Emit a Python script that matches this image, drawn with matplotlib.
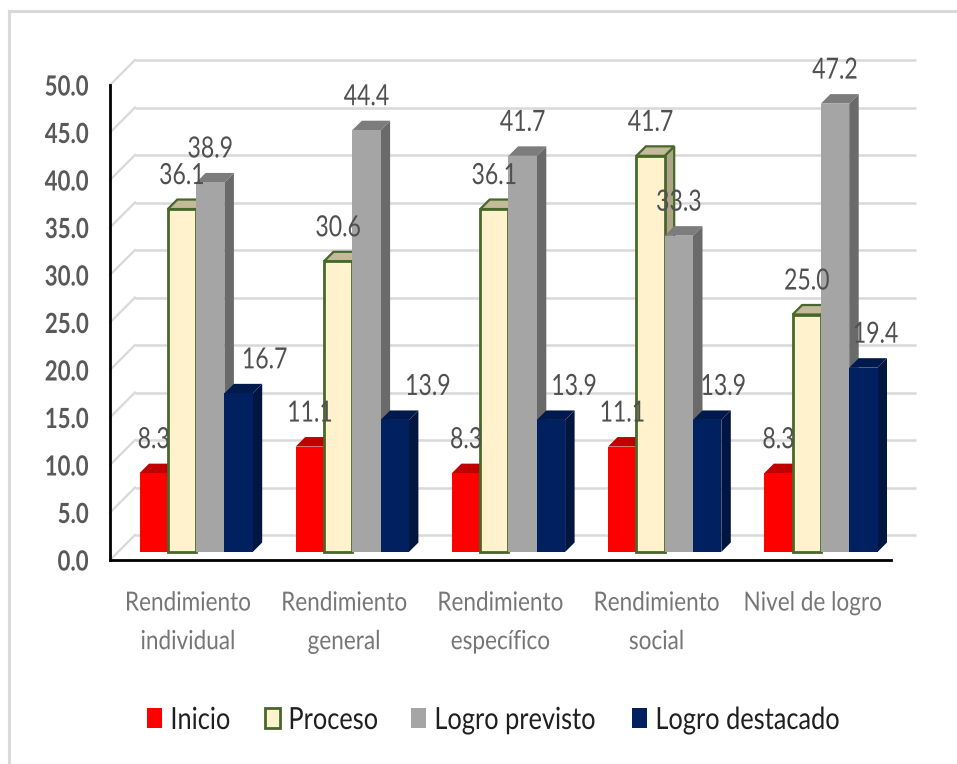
import matplotlib
matplotlib.use("Agg")
import matplotlib.pyplot as plt
from matplotlib.patches import Patch, Polygon
from matplotlib.lines import Line2D
from matplotlib.patheffects import AbstractPathEffect
from matplotlib.transforms import Affine2D

W, H = 957, 764
plt.rcParams["font.family"] = ["Lato", "DejaVu Sans"]

categories = ["Rendimiento\nindividual", "Rendimiento\ngeneral", "Rendimiento\nespecífico",
              "Rendimiento\nsocial", "Nivel de logro"]
inicio = [8.3, 11.1, 8.3, 11.1, 8.3]
proceso = [36.1, 30.6, 36.1, 41.7, 25.0]
logro_previsto = [38.9, 44.4, 41.7, 33.3, 47.2]
logro_destacado = [16.7, 13.9, 13.9, 13.9, 19.4]
series_names = ["Inicio", "Proceso", "Logro previsto", "Logro destacado"]
series_values = [inicio, proceso, logro_previsto, logro_destacado]
y_ticks = [0, 5, 10, 15, 20, 25, 30, 35, 40, 45, 50]

# style: front, top, side, edge
styles = [
    ("#FF0000", "#C00000", "#A00000", None),
    ("#FFF2CC", "#C4B998", "#ADA488", "#46682B"),
    ("#A5A5A5", "#7C7C7C", "#6A6A6A", None),
    ("#002060", "#001A4D", "#00153F", None),
]
navy_label_shift = [26, 33, 23, 16, 12]
legend_left_px = [147, 265, 411, 632]


class Squeeze(AbstractPathEffect):
    """Draw real text narrower, as the stretched original font looks."""
    def __init__(self, factor, anchor="center"):
        super().__init__()
        self.factor, self.anchor = factor, anchor

    def draw_path(self, renderer, gc, tpath, affine, rgbFace=None):
        ext = affine.transform_path(tpath).get_extents()
        a = {"left": ext.x0, "right": ext.x1, "center": (ext.x0 + ext.x1) / 2}[self.anchor]
        squeezed = affine + Affine2D().translate(-a, 0).scale(self.factor, 1).translate(a, 0)
        renderer.draw_path(gc, tpath, squeezed, rgbFace)


fig = plt.figure(figsize=(W / 100, H / 100), dpi=100, facecolor="white")
ax = fig.add_axes([110 / W, 1 - 560 / H, 781 / W, 475 / H])
ax.set_xlim(-0.5, 4.5)
ax.set_ylim(0, 50)
ax.patch.set_alpha(0)

px = 5 / 781          # data x per pixel
py = 50 / 475         # data y per pixel

# back wall grid and floor/wall diagonals
for v in y_ticks:
    ax.plot([-0.5 + 25 * px, 4.5 + 25 * px], [v + 25 * py] * 2, color="#D9D9D9", lw=1.8,
            clip_on=False, zorder=1, solid_capstyle="butt")
    ax.plot([-0.5, -0.5 + 25 * px], [v, v + 25 * py], color="#D9D9D9", lw=1.6,
            clip_on=False, zorder=1)

# bars
shift_x, shift_y = 8 * px, 8 * py
dx, dy = 9.5 * px, 9.5 * py
bar_w = 28.3 * px
for j, (vals, st) in enumerate(zip(series_values, styles)):
    front, top, side, edge = st
    z = 3 + j
    lw = 1.6 if edge else 0
    ec = edge if edge else "none"
    for i, v in enumerate(vals):
        x = i + shift_x + (j - 1.5) * bar_w
        l, r = x - bar_w / 2, x + bar_w / 2
        b, t = shift_y, shift_y + v
        ax.add_patch(Polygon([(r, b), (r + dx, b + dy), (r + dx, t + dy), (r, t)], closed=True,
                             fc=side, ec=ec, lw=lw, zorder=z, clip_on=False))
        ax.add_patch(Polygon([(l, t), (l + dx, t + dy), (r + dx, t + dy), (r, t)], closed=True,
                             fc=top, ec=ec, lw=lw, zorder=z, clip_on=False))
        ax.bar(x, v, bar_w, bottom=shift_y, color=front, edgecolor=ec, linewidth=lw + (0.4 if edge else 0),
               zorder=z + 0.1, clip_on=False)
        extra = navy_label_shift[i] if j == 3 else 0
        ann = ax.annotate(f"{v:.1f}", (x, t), xytext=(extra * 0.72, 33 * 0.72), textcoords="offset points",
                          ha="center", va="center", fontsize=21, color="#505050", zorder=20,
                          annotation_clip=False)
        ann.set_path_effects([Squeeze(0.79)])

# axes
for s in ("top", "right"):
    ax.spines[s].set_visible(False)
for s in ("left", "bottom"):
    ax.spines[s].set_color("black")
    ax.spines[s].set_linewidth(2)
    ax.spines[s].set_zorder(10)
ax.set_yticks(y_ticks)
ax.set_yticklabels([f"{v:.1f}" for v in y_ticks], fontsize=20, fontweight="bold", color="#595959")
ax.set_xticks(range(5))
ax.set_xticklabels(categories, fontsize=19, color="#767676", linespacing=1.68)
ax.tick_params(axis="both", length=0)
ax.tick_params(axis="y", pad=15)
ax.tick_params(axis="x", pad=22)
for t in ax.get_yticklabels():
    t.set_path_effects([Squeeze(0.80, "right")])
for t in ax.get_xticklabels():
    t.set_path_effects([Squeeze(0.855)])

# legend: one entry per anchor so the squeezed labels keep their spacing
handles = [Patch(fc=st[0], ec=st[3] if st[3] else st[0], lw=2 if st[3] else 0) for st in styles]
for h, name, left in zip(handles, series_names, legend_left_px):
    leg = fig.legend([h], [name], loc="center left", bbox_to_anchor=(left / W, 1 - 720 / H),
                     frameon=False, fontsize=22, labelcolor="#1F1F1F", handlelength=0.5, handleheight=0.65,
                     handletextpad=0.25, borderpad=0, borderaxespad=0)
    for t in leg.get_texts():
        t.set_path_effects([Squeeze(0.83, "left")])

# picture frame
fig.add_artist(Line2D([8.5 / W, 8.5 / W], [0, 1 - 10.5 / H], color="#D9D9D9", lw=2.2))
fig.add_artist(Line2D([8.5 / W, 1], [1 - 10.5 / H] * 2, color="#D9D9D9", lw=2.2))

fig.savefig("out.png", dpi=100, facecolor="white")
